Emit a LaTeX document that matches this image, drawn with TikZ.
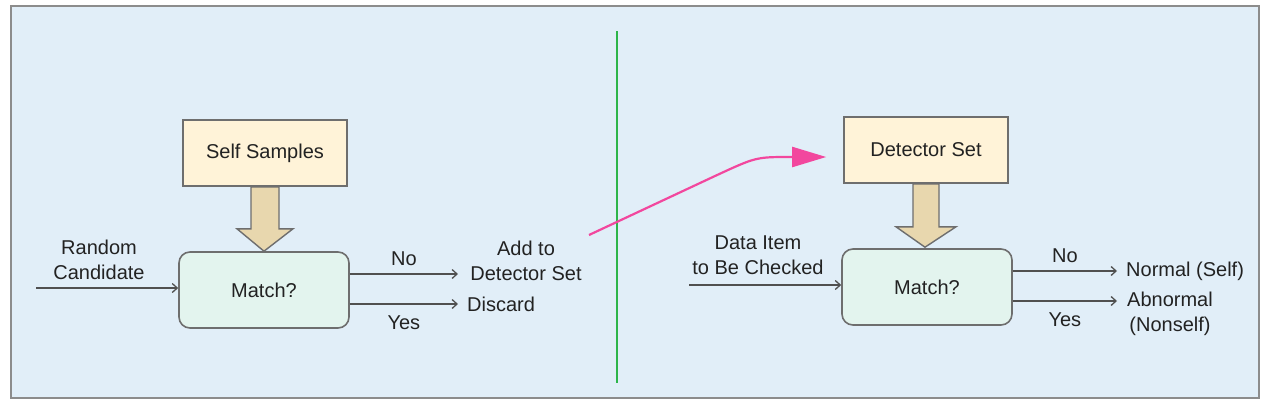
\documentclass[tikz,border=0pt]{standalone}
\usepackage{fontspec}
\setmainfont{Liberation Sans}
\usetikzlibrary{arrows.meta,calc}
\definecolor{bgblue}{HTML}{E1EEF8}
\definecolor{frame}{HTML}{8C8C8C}
\definecolor{boxline}{HTML}{6E6E6E}
\definecolor{cream}{HTML}{FFF3D8}
\definecolor{mint}{HTML}{E3F4EE}
\definecolor{tan}{HTML}{E8D7AE}
\definecolor{arr}{HTML}{505050}
\definecolor{txt}{HTML}{222222}
\definecolor{divgreen}{HTML}{2DB54A}
\definecolor{hotpink}{HTML}{F2479E}
\begin{document}
\begin{tikzpicture}[x=1pt,y=-1pt,
  every node/.style={font=\fontsize{20}{25}\selectfont, text=txt},
  setbox/.style={draw=boxline, line width=1.6pt, fill=cream, minimum width=164pt, minimum height=66pt, inner sep=0pt},
  matchbox/.style={draw=boxline, line width=1.6pt, fill=mint, rounded corners=11pt, minimum width=170pt, minimum height=76pt, inner sep=0pt},
  lbl/.style={align=center, inner sep=0pt},
  flow/.style={draw=arr, line width=1.3pt, -{Straight Barb[length=5pt,width=9pt,line width=1.3pt]}},
  blockarrow/.style={draw=boxline, line width=1.4pt, fill=tan, line join=miter}
]
\useasboundingbox (0,0) rectangle (1262,400);
% background panel
\draw[frame, line width=2pt, fill=bgblue] (11,6) rectangle (1259,398);
% divider
\coordinate (gtop) at (617,31);
\coordinate (gbot) at (617,383);
\draw[divgreen, line width=2pt] (gtop) -- (gbot);

% ---------- left half ----------
\node[setbox] (ss) at (265,153) {Self Samples};
\node[matchbox] (m1) at (264,290) {Match?};
\node[lbl] (rc) at (99,260) {Random\\Candidate};
\coordinate (in1) at (36,288);
\node[lbl] (add) at (526,261) {Add to\\Detector Set};
\node[lbl, anchor=west] (disc) at (467,304) {Discard};
\coordinate (no1e) at (458,274);
\coordinate (yes1e) at (458,304);
\draw[flow] (in1) -- (in1 -| m1.west);
\draw[flow] (m1.east |- no1e) -- (no1e) node[midway, above=8pt, lbl] (no1) {No};
\draw[flow] (m1.east |- yes1e) -- (yes1e) node[midway, below=11pt, lbl] (yes1) {Yes};
\draw[blockarrow] ($(ss.south)+(-14,0)$) -- ($(ss.south)+(14,0)$) -- ($(ss.south)+(14,42)$)
  -- ($(ss.south)+(28,42)$) -- (m1.north) -- ($(ss.south)+(-28,42)$) -- ($(ss.south)+(-14,42)$) -- cycle;

% ---------- right half ----------
\node[setbox] (ds) at (926,150) {Detector Set};
\node[matchbox] (m2) at (927,287) {Match?};
\node[lbl] (di) at (758,255) {Data Item\\to Be Checked};
\coordinate (in2) at (689,285);
\coordinate (no2e) at (1117,271);
\coordinate (yes2e) at (1117,301);
\node[lbl, anchor=west] (norm) at (1126,271) {Normal (Self)};
\node[lbl, anchor=west] (abn) at (1127,314) {Abnormal\\(Nonself)};
\draw[flow] (in2) -- (in2 -| m2.west);
\draw[flow] (m2.east |- no2e) -- (no2e) node[midway, above=8pt, lbl] (no2) {No};
\draw[flow] (m2.east |- yes2e) -- (yes2e) node[midway, below=11pt, lbl] (yes2) {Yes};
\draw[blockarrow] ($(ds.south)+(-13,0)$) -- ($(ds.south)+(13,0)$) -- ($(ds.south)+(13,43)$)
  -- ($(ds.south)+(30,43)$) -- ($(m2.north)+(-2,-1)$) -- ($(ds.south)+(-30,43)$) -- ($(ds.south)+(-13,43)$) -- cycle;

% ---------- transfer arrow ----------
\coordinate (pstart) at (589,235);
\coordinate (ptip) at ($(ds.west)+(-17,7)$);
\draw[hotpink, line width=2.2pt, line join=round, -{Triangle[length=34pt,width=20pt]}]
  (pstart) -- (715,176) .. controls (756,157) .. (790,157) -- (ptip);
\end{tikzpicture}
\end{document}
